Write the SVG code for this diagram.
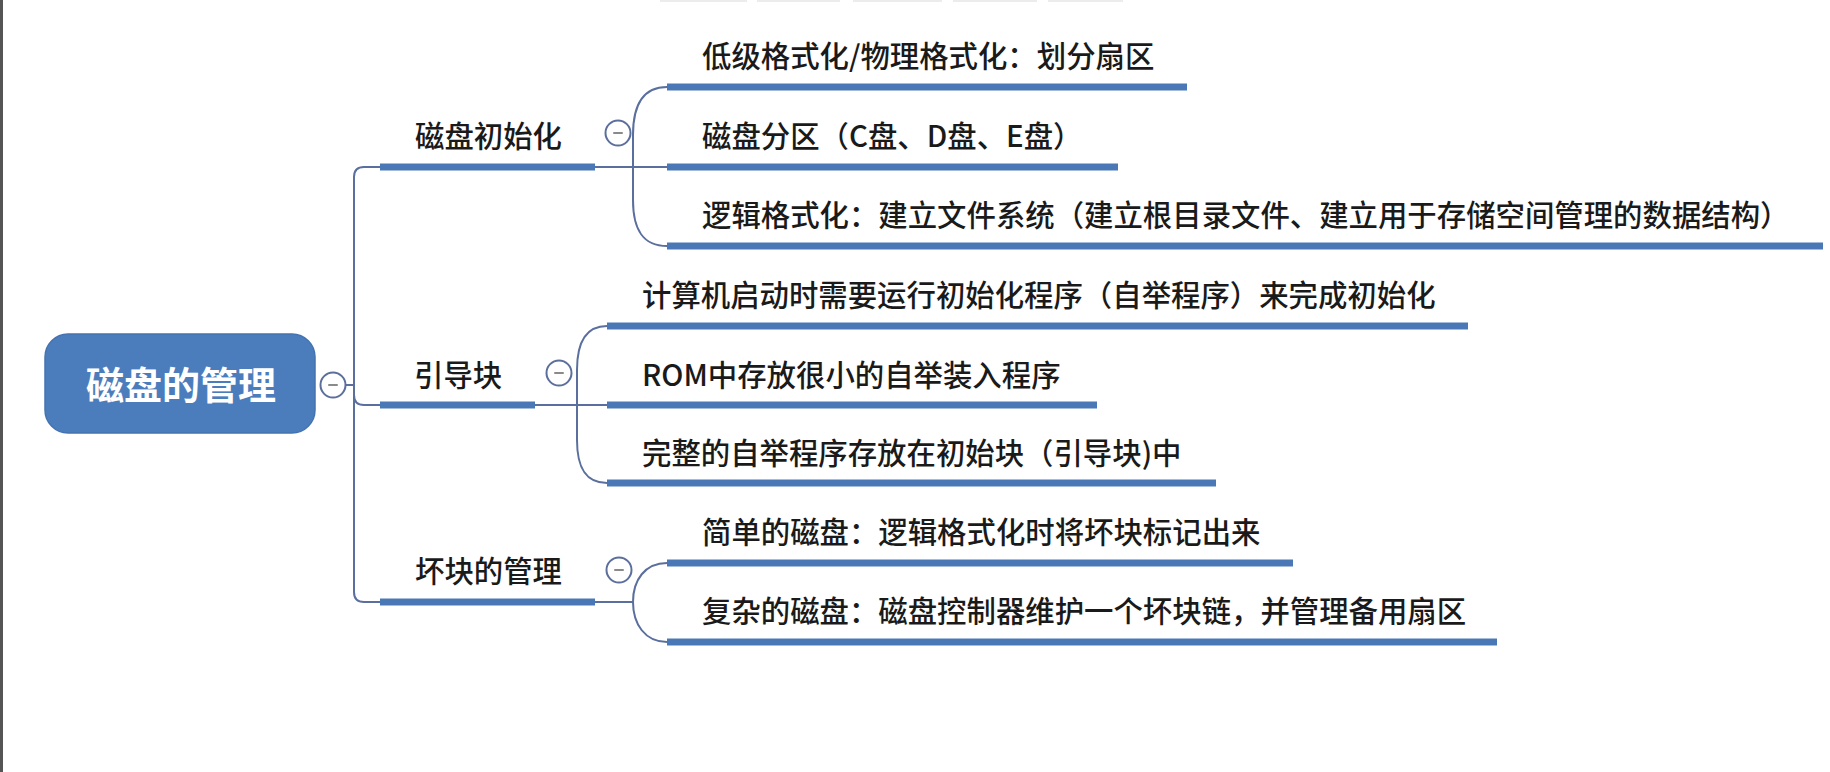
<svg xmlns="http://www.w3.org/2000/svg" width="1830" height="772" viewBox="0 0 1830 772">
<style>
  .bg { fill: #ffffff; }
  .root-box { fill: #4b7dbd; stroke: #4573b0; stroke-width: 1.5; }
  .root-text { font-family: "Noto Sans CJK SC", "Noto Sans", sans-serif; font-size: 38px; font-weight: 700; fill: #ffffff; }
  .t { font-family: "Noto Sans CJK SC", "Noto Sans", sans-serif; font-size: 29.4px; font-weight: 500; fill: #1a1a1a; }
  .ul { stroke: #4a78b6; stroke-width: 7; fill: none; stroke-linecap: butt; }
  .conn { stroke: #5a6f9e; stroke-width: 2; fill: none; }
  .tog { fill: #ffffff; stroke: #5c6f9c; stroke-width: 2; }
  .minus { stroke: #8a8a8a; stroke-width: 2; stroke-linecap: round; }
</style>
<rect class="bg" x="0" y="0" width="1830" height="772"/>
<rect x="0" y="0" width="3" height="772" fill="#555555"/>
<g fill="#ececec">
  <rect x="660" y="0" width="87" height="2"/>
  <rect x="757" y="0" width="83" height="2"/>
  <rect x="853" y="0" width="89" height="2"/>
  <rect x="953" y="0" width="84" height="2"/>
  <rect x="1048" y="0" width="75" height="2"/>
</g>

<g id="connectors">
  <path class="conn" d="M 346 385 L 354 385"/>
  <path class="conn" d="M 380 167 L 364 167 Q 354 167 354 177 L 354 592 Q 354 602 364 602 L 380 602"/>
  <path class="conn" d="M 354 395 Q 354 405 364 405 L 380 405"/>
  <path class="conn" d="M 595 167 L 667 167"/>
  <path class="conn" d="M 667 87 C 643 87 633 105 633 135 L 633 200 C 633 230 643 246 667 246"/>
  <path class="conn" d="M 535 405 L 607 405"/>
  <path class="conn" d="M 607 326 C 585 326 577 343 577 370 L 577 440 C 577 467 585 483 607 483"/>
  <path class="conn" d="M 595 602 L 633 602"/>
  <path class="conn" d="M 667 563 C 645 563 633 580 633 602 C 633 624 645 642 667 642"/>
</g>

<g id="root">
  <rect class="root-box" x="45" y="334" width="270" height="99" rx="23" ry="23"/>
  <text class="root-text" x="181" y="399" text-anchor="middle">磁盘的管理</text>
  <circle class="tog" cx="333" cy="385" r="12.5"/>
  <line class="minus" x1="329" y1="385" x2="337" y2="385"/>
</g>

<g id="n-init">
  <text class="t" x="415" y="147">磁盘初始化</text>
  <line class="ul" x1="380" y1="167" x2="595" y2="167"/>
  <circle class="tog" cx="618" cy="133" r="12.5"/>
  <line class="minus" x1="614" y1="133" x2="622" y2="133"/>
</g>
<g id="n-init-1">
  <text class="t" x="702" y="67">低级格式化/物理格式化：划分扇区</text>
  <line class="ul" x1="667" y1="87" x2="1187" y2="87"/>
</g>
<g id="n-init-2">
  <text class="t" x="702" y="147">磁盘分区（C盘、D盘、E盘）</text>
  <line class="ul" x1="667" y1="167" x2="1118" y2="167"/>
</g>
<g id="n-init-3">
  <text class="t" x="702" y="226">逻辑格式化：建立文件系统（建立根目录文件、建立用于存储空间管理的数据结构）</text>
  <line class="ul" x1="667" y1="246" x2="1823" y2="246"/>
</g>

<g id="n-boot">
  <text class="t" x="414" y="386">引导块</text>
  <line class="ul" x1="380" y1="405" x2="535" y2="405"/>
  <circle class="tog" cx="559" cy="373" r="12.5"/>
  <line class="minus" x1="555" y1="373" x2="563" y2="373"/>
</g>
<g id="n-boot-1">
  <text class="t" x="642" y="306">计算机启动时需要运行初始化程序（自举程序）来完成初始化</text>
  <line class="ul" x1="607" y1="326" x2="1468" y2="326"/>
</g>
<g id="n-boot-2">
  <text class="t" x="642" y="386">ROM中存放很小的自举装入程序</text>
  <line class="ul" x1="607" y1="405" x2="1097" y2="405"/>
</g>
<g id="n-boot-3">
  <text class="t" x="642" y="464">完整的自举程序存放在初始块（引导块)中</text>
  <line class="ul" x1="607" y1="483" x2="1216" y2="483"/>
</g>

<g id="n-bad">
  <text class="t" x="415" y="582">坏块的管理</text>
  <line class="ul" x1="380" y1="602" x2="595" y2="602"/>
  <circle class="tog" cx="619" cy="570" r="12.5"/>
  <line class="minus" x1="615" y1="570" x2="623" y2="570"/>
</g>
<g id="n-bad-1">
  <text class="t" x="702" y="543">简单的磁盘：逻辑格式化时将坏块标记出来</text>
  <line class="ul" x1="667" y1="563" x2="1293" y2="563"/>
</g>
<g id="n-bad-2">
  <text class="t" x="702" y="622">复杂的磁盘：磁盘控制器维护一个坏块链，并管理备用扇区</text>
  <line class="ul" x1="667" y1="642" x2="1497" y2="642"/>
</g>
</svg>
